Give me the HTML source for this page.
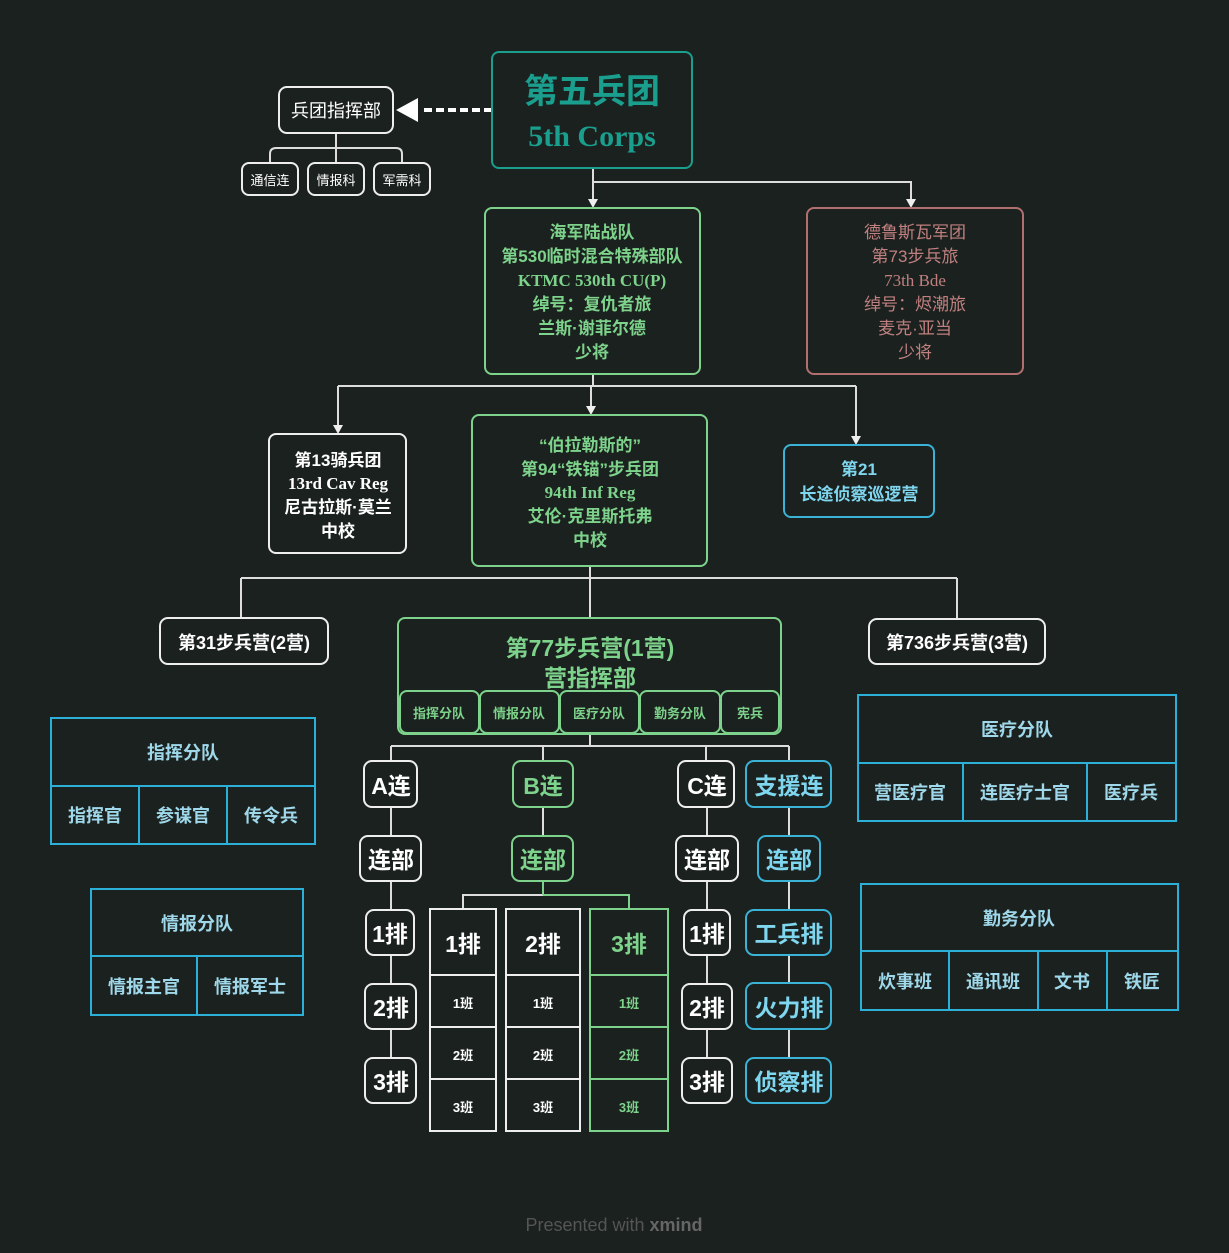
<!DOCTYPE html>
<html><head><meta charset="utf-8"><style>
html,body{margin:0;padding:0;background:#1b211e;}
svg{display:block;font-family:"Liberation Sans","Noto Sans CJK SC",sans-serif;font-weight:bold;}
</style></head><body>
<svg width="1229" height="1253" viewBox="0 0 1229 1253" xmlns="http://www.w3.org/2000/svg">
<rect width="1229" height="1253" fill="#1b211e"/>
<defs>
<marker id="ar" markerWidth="8" markerHeight="8" refX="4" refY="7" orient="auto" markerUnits="userSpaceOnUse"><path d="M0,0 L8,0 L4,8 Z" fill="#eee"/></marker>
</defs>
<g fill="none" stroke-width="2">
<!-- connectors -->
<path d="M492,110 H420" stroke="#fff" stroke-width="4" stroke-dasharray="8,4"/>
<path d="M396,110 L418,98 L418,122 Z" fill="#fff" stroke="none"/>
<path d="M336,133 V148 M270,163 V154 Q270,148 276,148 H396 Q402,148 402,154 V163 M336,148 V163" stroke="#ddd"/>
<path d="M593,168 V200 M593,182 H911 V200" stroke="#ddd"/>
<path d="M593,374 V386 M338,386 H856 M338,386 V426 M591,386 V407 M856,386 V436" stroke="#ddd"/>
<path d="M590,566 V578 M241,578 H957 M241,578 V618 M590,578 V618 M957,578 V619" stroke="#ddd"/>
<path d="M590,734 V746 M391,746 H789 M391,746 V761 M543,746 V761 M706,746 V761 M789,746 V761" stroke="#ddd"/>
<path d="M391,807 V836 M391,881 V910 M391,955 V984 M391,1029 V1058" stroke="#ddd"/>
<path d="M707,807 V836 M707,881 V910 M707,955 V984 M707,1029 V1058" stroke="#ddd"/>
<path d="M789,807 V836 M789,881 V910 M789,955 V983 M789,1029 V1058" stroke="#ddd"/>
<path d="M543,807 V836 M543,881 V895 H463 V909" stroke="#ddd"/>
<path d="M543,895 H629 V909 M543,881 V895" stroke="#7dd38b"/>
</g>
<g stroke-width="2">
<path d="M593,200 V206" stroke="#ddd"/><path d="M588,199 L598,199 L593,208 Z" fill="#eee"/>
<path d="M906,199 L916,199 L911,208 Z" fill="#eee"/>
<path d="M333,425 L343,425 L338,434 Z" fill="#eee"/>
<path d="M586,406 L596,406 L591,415 Z" fill="#eee"/>
<path d="M851,436 L861,436 L856,445 Z" fill="#eee"/>
</g>
<!-- boxes -->
<g fill="#1b211e" stroke-width="2">
<rect x="492" y="52" width="200" height="116" rx="7" stroke="#1a9e8e"/>
<rect x="279" y="87" width="114" height="46" rx="8" stroke="#eee"/>
<rect x="242" y="163" width="56" height="32" rx="7" stroke="#eee"/>
<rect x="308" y="163" width="56" height="32" rx="7" stroke="#eee"/>
<rect x="374" y="163" width="56" height="32" rx="7" stroke="#eee"/>
<rect x="485" y="208" width="215" height="166" rx="7" stroke="#7dd38b"/>
<rect x="807" y="208" width="216" height="166" rx="7" stroke="#b07070"/>
<rect x="269" y="434" width="137" height="119" rx="7" stroke="#eee"/>
<rect x="472" y="415" width="235" height="151" rx="7" stroke="#7dd38b"/>
<rect x="784" y="445" width="150" height="72" rx="7" stroke="#3bb3d6"/>
<rect x="160" y="618" width="168" height="46" rx="8" stroke="#eee"/>
<rect x="869" y="619" width="176" height="45" rx="8" stroke="#eee"/>
<rect x="398" y="618" width="383" height="116" rx="7" stroke="#7dd38b"/>
<rect x="400" y="691" width="79" height="42" rx="7" stroke="#7dd38b"/>
<rect x="480" y="691" width="79" height="42" rx="7" stroke="#7dd38b"/>
<rect x="560" y="691" width="79" height="42" rx="7" stroke="#7dd38b"/>
<rect x="640" y="691" width="80" height="42" rx="7" stroke="#7dd38b"/>
<rect x="721" y="691" width="58" height="42" rx="7" stroke="#7dd38b"/>
<rect x="364" y="761" width="53" height="46" rx="8" stroke="#eee"/>
<rect x="513" y="761" width="60" height="46" rx="8" stroke="#7dd38b"/>
<rect x="678" y="761" width="56" height="46" rx="8" stroke="#eee"/>
<rect x="746" y="761" width="85" height="46" rx="8" stroke="#3bb3d6"/>
<rect x="360" y="836" width="61" height="45" rx="8" stroke="#eee"/>
<rect x="512" y="836" width="61" height="45" rx="8" stroke="#7dd38b"/>
<rect x="676" y="836" width="62" height="45" rx="8" stroke="#eee"/>
<rect x="758" y="836" width="62" height="45" rx="8" stroke="#3bb3d6"/>
<rect x="366" y="910" width="48" height="45" rx="8" stroke="#eee"/>
<rect x="365" y="984" width="51" height="45" rx="8" stroke="#eee"/>
<rect x="365" y="1058" width="51" height="45" rx="8" stroke="#eee"/>
<rect x="684" y="910" width="46" height="45" rx="8" stroke="#eee"/>
<rect x="682" y="984" width="50" height="45" rx="8" stroke="#eee"/>
<rect x="682" y="1058" width="50" height="45" rx="8" stroke="#eee"/>
<rect x="746" y="910" width="85" height="45" rx="8" stroke="#3bb3d6"/>
<rect x="746" y="983" width="85" height="46" rx="8" stroke="#3bb3d6"/>
<rect x="746" y="1058" width="85" height="45" rx="8" stroke="#3bb3d6"/>
</g>
<!-- B tables -->
<g fill="none" stroke-width="2">
<path d="M430,909 H496 V1131 H430 Z M430,975 H496 M430,1027 H496 M430,1079 H496" stroke="#eee"/>
<path d="M506,909 H580 V1131 H506 Z M506,975 H580 M506,1027 H580 M506,1079 H580" stroke="#eee"/>
<path d="M590,909 H668 V1131 H590 Z M590,975 H668 M590,1027 H668 M590,1079 H668" stroke="#7dd38b"/>
</g>
<!-- side tables -->
<g fill="none" stroke="#2cb0d8" stroke-width="2">
<path d="M51,718 H315 V844 H51 Z M51,786 H315 M139,786 V844 M227,786 V844"/>
<path d="M91,889 H303 V1015 H91 Z M91,956 H303 M197,956 V1015"/>
<path d="M858,695 H1176 V821 H858 Z M858,763 H1176 M963,763 V821 M1087,763 V821"/>
<path d="M861,884 H1178 V1010 H861 Z M861,951 H1178 M949,951 V1010 M1038,951 V1010 M1107,951 V1010"/>
</g>
<!-- texts -->
<g text-anchor="middle">
<text x="592" y="103" font-size="34" fill="#1a9e8e">第五兵团</text>
<text x="592" y="146" font-size="30" fill="#1a9e8e" font-family="Liberation Serif,serif">5th Corps</text>
<text x="336" y="117" font-size="18" fill="#fff" font-weight="normal">兵团指挥部</text>
<text x="270" y="185" font-size="13" fill="#fff" font-weight="normal">通信连</text>
<text x="336" y="185" font-size="13" fill="#fff" font-weight="normal">情报科</text>
<text x="402" y="185" font-size="13" fill="#fff" font-weight="normal">军需科</text>
<g font-size="17" fill="#7dd38b">
<text x="592" y="238">海军陆战队</text>
<text x="592" y="262">第530临时混合特殊部队</text>
<text x="592" y="286" font-family="Liberation Serif,serif">KTMC 530th CU(P)</text>
<text x="592" y="310">绰号：复仇者旅</text>
<text x="592" y="334">兰斯·谢菲尔德</text>
<text x="592" y="358">少将</text>
</g>
<g font-size="17" fill="#c08080" font-weight="normal">
<text x="915" y="238">德鲁斯瓦军团</text>
<text x="915" y="262">第73步兵旅</text>
<text x="915" y="286" font-family="Liberation Serif,serif">73th Bde</text>
<text x="915" y="310">绰号：烬潮旅</text>
<text x="915" y="334">麦克·亚当</text>
<text x="915" y="358">少将</text>
</g>
<g font-size="17" fill="#fff">
<text x="338" y="466">第13骑兵团</text>
<text x="338" y="489" font-family="Liberation Serif,serif">13rd Cav Reg</text>
<text x="338" y="513">尼古拉斯·莫兰</text>
<text x="338" y="537">中校</text>
</g>
<g font-size="17" fill="#7dd38b">
<text x="590" y="451">“伯拉勒斯的”</text>
<text x="590" y="475">第94“铁锚”步兵团</text>
<text x="590" y="498" font-family="Liberation Serif,serif">94th Inf Reg</text>
<text x="590" y="522">艾伦·克里斯托弗</text>
<text x="590" y="546">中校</text>
</g>
<text x="859" y="475" font-size="17" fill="#7fd6ef">第21</text>
<text x="859" y="500" font-size="17" fill="#7fd6ef">长途侦察巡逻营</text>
<text x="244" y="649" font-size="18" fill="#fff">第31步兵营(2营)</text>
<text x="957" y="649" font-size="18" fill="#fff">第736步兵营(3营)</text>
<text x="590" y="656" font-size="23" fill="#7dd38b">第77步兵营(1营)</text>
<text x="590" y="686" font-size="23" fill="#7dd38b">营指挥部</text>
<g font-size="13" fill="#7dd38b">
<text x="439" y="718">指挥分队</text><text x="519" y="718">情报分队</text><text x="599" y="718">医疗分队</text><text x="680" y="718">勤务分队</text><text x="750" y="718">宪兵</text>
</g>
<g font-size="23" fill="#fff">
<text x="391" y="794">A连</text><text x="391" y="868">连部</text><text x="390" y="942">1排</text><text x="391" y="1016">2排</text><text x="391" y="1090">3排</text>
<text x="707" y="794">C连</text><text x="707" y="868">连部</text><text x="707" y="942">1排</text><text x="707" y="1016">2排</text><text x="707" y="1090">3排</text>
<text x="463" y="952">1排</text><text x="543" y="952">2排</text>
</g>
<g font-size="23" fill="#7dd38b">
<text x="543" y="794">B连</text><text x="543" y="868">连部</text><text x="629" y="952">3排</text>
</g>
<g font-size="23" fill="#7fd6ef">
<text x="789" y="794">支援连</text><text x="789" y="868">连部</text><text x="789" y="942">工兵排</text><text x="789" y="1016">火力排</text><text x="789" y="1090">侦察排</text>
</g>
<g font-size="13" fill="#fff">
<text x="463" y="1008">1班</text><text x="463" y="1060">2班</text><text x="463" y="1112">3班</text>
<text x="543" y="1008">1班</text><text x="543" y="1060">2班</text><text x="543" y="1112">3班</text>
</g>
<g font-size="13" fill="#7dd38b">
<text x="629" y="1008">1班</text><text x="629" y="1060">2班</text><text x="629" y="1112">3班</text>
</g>
<g font-size="18" fill="#9fd8ea">
<text x="183" y="759">指挥分队</text>
<text x="95" y="822">指挥官</text><text x="183" y="822">参谋官</text><text x="271" y="822">传令兵</text>
<text x="197" y="930">情报分队</text>
<text x="144" y="993">情报主官</text><text x="250" y="993">情报军士</text>
<text x="1017" y="736">医疗分队</text>
<text x="910" y="799">营医疗官</text><text x="1025" y="799">连医疗士官</text><text x="1131" y="799">医疗兵</text>
<text x="1019" y="925">勤务分队</text>
<text x="905" y="988">炊事班</text><text x="993" y="988">通讯班</text><text x="1072" y="988">文书</text><text x="1142" y="988">铁匠</text>
</g>
<text x="614" y="1231" font-size="18" fill="#555" font-weight="normal">Presented with <tspan font-weight="bold" fill="#666">xmind</tspan></text>
</g>
</svg>
</body></html>
